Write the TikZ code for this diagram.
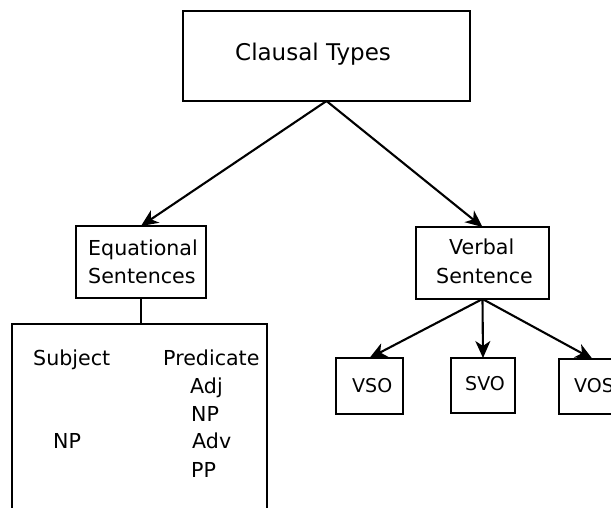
\documentclass[tikz,border=0pt]{standalone}
\usepackage{fontspec}
\setmainfont{DejaVu Sans}
\usetikzlibrary{arrows.meta}
\begin{document}
\begin{tikzpicture}[x=1pt,y=-1pt,
  box/.style={draw,line width=2.1pt,inner sep=0pt,outer sep=0pt},
  lbl/.style={anchor=base west,inner sep=0pt,font=\fontsize{20.6}{24}\selectfont},
  small/.style={anchor=base west,inner sep=0pt,font=\fontsize{19}{22}\selectfont},
  title/.style={anchor=base west,inner sep=0pt,font=\fontsize{23}{27}\selectfont},
  arr/.style={line width=2.1pt,-{Stealth[length=17pt,width=15pt,inset=5pt]}},
  link/.style={line width=2.1pt}]
\useasboundingbox (0,0) rectangle (611,507);
\clip (0,0) rectangle (611,507);
\fill[white] (0,0) rectangle (611,507);

% boxes
\node[box,minimum width=287pt,minimum height=90pt] (cl) at (326.5,56) {};
\node[box,minimum width=130pt,minimum height=72pt] (eq) at (141,262) {};
\node[box,minimum width=133pt,minimum height=72pt] (vb) at (482.5,263) {};
\node[box,minimum width=255pt,minimum height=216pt] (big) at (139.5,432) {};
\node[box,minimum width=67pt,minimum height=56pt] (vso) at (369.5,386) {};
\node[box,minimum width=64pt,minimum height=55pt] (svo) at (483,385.5) {};
\node[box,minimum width=67pt,minimum height=55pt] (vos) at (592.5,386.5) {};

% texts
\node[title] (tcl) at (235,60) {Clausal Types};
\node[lbl] (teq1) at (88,255) {Equational};
\node[lbl] (teq2) at (88,283) {Sentences};
\node[lbl] (tvb1) at (449,254) {Verbal};
\node[lbl] (tvb2) at (436,283) {Sentence};
\node[small] (tvso) at (352,392) {VSO};
\node[small] (tsvo) at (465,390) {SVO};
\node[small] (tvos) at (574,392) {VOS};
\node[lbl] (tsub) at (33,365) {Subject};
\node[lbl] (tpred) at (163,365) {Predicate};
\node[lbl] (tadj) at (190,393) {Adj};
\node[lbl] (tnp1) at (191,421) {NP};
\node[lbl] (tadv) at (192,448) {Adv};
\node[lbl] (tpp) at (191,477) {PP};
\node[lbl] (tnp2) at (53,448) {NP};

% connectors
\draw[arr] (cl.south) -- (eq.north);
\draw[arr] (cl.south) -- (vb.north);
\draw[link] (eq.south) -- (eq.south |- big.north);
\draw[arr] (vb.south) -- (vso.north);
\draw[arr] (vb.south) -- (svo.north);
\draw[arr] (vb.south) -- (vos.north);
\end{tikzpicture}
\end{document}
